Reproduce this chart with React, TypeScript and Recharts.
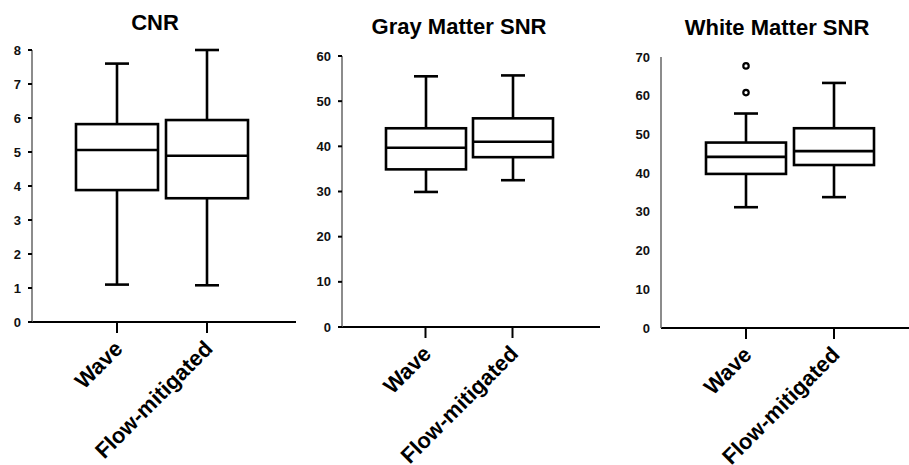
import React from 'react';
import { ComposedChart, Bar, Line, XAxis, YAxis } from 'recharts';

const categories = ['Wave', 'Flow-mitigated'];

const cnrMin = [1.1, 1.08];
const cnrQ1 = [3.88, 3.64];
const cnrMed = [5.06, 4.89];
const cnrQ3 = [5.82, 5.94];
const cnrMax = [7.6, 8.0];
const cnrTicks = [0, 1, 2, 3, 4, 5, 6, 7, 8];

const gmMin = [29.9, 32.5];
const gmQ1 = [34.9, 37.6];
const gmMed = [39.7, 41.0];
const gmQ3 = [44.0, 46.2];
const gmMax = [55.5, 55.7];
const gmTicks = [0, 10, 20, 30, 40, 50, 60];

const wmMin = [31.2, 33.8];
const wmQ1 = [39.8, 42.1];
const wmMed = [44.2, 45.7];
const wmQ3 = [47.9, 51.6];
const wmMax = [55.4, 63.3];
const wmOutlier1: (number | null)[] = [67.7, null];
const wmOutlier2: (number | null)[] = [60.8, null];
const wmTicks = [0, 10, 20, 30, 40, 50, 60, 70];

const FONT = '"Liberation Sans", Arial, sans-serif';

function buildRows(
  mins: number[], q1s: number[], meds: number[], q3s: number[], maxs: number[],
  o1?: (number | null)[], o2?: (number | null)[]
) {
  return categories.map((name, i) => ({
    name,
    range: [mins[i], maxs[i]],
    min: mins[i], q1: q1s[i], med: meds[i], q3: q3s[i], max: maxs[i],
    out1: o1 ? o1[i] : null,
    out2: o2 ? o2[i] : null,
  }));
}

const BoxShape = (props: any) => {
  const { x, y, width, height, payload } = props;
  if (!payload || height === undefined) return null;
  const top = Math.min(y, y + height);
  const bottom = Math.max(y, y + height);
  const { min, q1, med, q3, max } = payload;
  const pix = (v: number) => bottom - ((v - min) / (max - min)) * (bottom - top);
  const cx = x + width / 2;
  const cap = 12;
  const sw = 2.6;
  return (
    <g stroke="#000" strokeWidth={sw} fill="none">
      <line x1={cx} x2={cx} y1={pix(max)} y2={pix(q3)} />
      <line x1={cx} x2={cx} y1={pix(q1)} y2={pix(min)} />
      <line x1={cx - cap} x2={cx + cap} y1={pix(max)} y2={pix(max)} />
      <line x1={cx - cap} x2={cx + cap} y1={pix(min)} y2={pix(min)} />
      <rect x={x} y={pix(q3)} width={width} height={pix(q1) - pix(q3)} fill="#fff" />
      <line x1={x} x2={x + width} y1={pix(med)} y2={pix(med)} />
    </g>
  );
};

const XTick = (props: any) => {
  const { x, y, payload } = props;
  const ax = x + 7;
  const ay = y + 17;
  return (
    <text
      x={ax}
      y={ay}
      transform={`rotate(-45, ${ax}, ${ay})`}
      textAnchor="end"
      fontFamily={FONT}
      fontWeight="bold"
      fontSize={22}
      fill="#000"
    >
      {payload.value}
    </text>
  );
};

const YTick = (props: any) => {
  const { x, y, payload } = props;
  return (
    <text
      x={x}
      y={y}
      dy={4.5}
      textAnchor="end"
      fontFamily={FONT}
      fontWeight="bold"
      fontSize={13}
      fill="#111"
    >
      {payload.value}
    </text>
  );
};

type PanelProps = {
  title: string;
  left: number;
  width: number;
  marginTop: number;
  marginRight: number;
  yWidth: number;
  xHeight: number;
  padL: number;
  padR: number;
  domain: [number, number];
  ticks: number[];
  rows: any[];
  barSize: number;
  showYTicks: boolean;
  titleTop: number;
  titleCenter: number;
  outliers?: boolean;
};

const Panel = (p: PanelProps) => (
  <>
    <div
      style={{
        position: 'absolute',
        left: p.titleCenter - 150,
        width: 300,
        top: p.titleTop,
        textAlign: 'center',
        fontFamily: FONT,
        fontWeight: 'bold',
        fontSize: 22,
        lineHeight: '22px',
        color: '#000',
      }}
    >
      {p.title}
    </div>
    <div style={{ position: 'absolute', left: p.left, top: 0 }}>
      <ComposedChart
        width={p.width}
        height={465}
        data={p.rows}
        margin={{ top: p.marginTop, right: p.marginRight, left: 0, bottom: 0 }}
      >
        <XAxis
          dataKey="name"
          type="category"
          padding={{ left: p.padL, right: p.padR }}
          height={p.xHeight}
          interval={0}
          tickSize={11}
          tickMargin={0}
          axisLine={{ stroke: '#000', strokeWidth: 2 }}
          tickLine={{ stroke: '#000', strokeWidth: 2 }}
          tick={<XTick />}
        />
        <YAxis
          type="number"
          domain={p.domain}
          ticks={p.ticks}
          interval={0}
          width={p.yWidth}
          tickSize={4}
          tickMargin={7}
          axisLine={{ stroke: '#666', strokeWidth: 1.5 }}
          tickLine={p.showYTicks ? { stroke: '#000', strokeWidth: 2 } : false}
          tick={<YTick />}
        />
        <Bar dataKey="range" barSize={p.barSize} shape={<BoxShape />} isAnimationActive={false} />
        {p.outliers && (
          <Line
            dataKey="out1"
            stroke="none"
            strokeWidth={0}
            dot={{ r: 2.7, fill: '#fff', stroke: '#000', strokeWidth: 2.2 }}
            activeDot={false}
            isAnimationActive={false}
          />
        )}
        {p.outliers && (
          <Line
            dataKey="out2"
            stroke="none"
            strokeWidth={0}
            dot={{ r: 2.7, fill: '#fff', stroke: '#000', strokeWidth: 2.2 }}
            activeDot={false}
            isAnimationActive={false}
          />
        )}
      </ComposedChart>
    </div>
  </>
);

export default function App() {
  const cnrRows = buildRows(cnrMin, cnrQ1, cnrMed, cnrQ3, cnrMax);
  const gmRows = buildRows(gmMin, gmQ1, gmMed, gmQ3, gmMax);
  const wmRows = buildRows(wmMin, wmQ1, wmMed, wmQ3, wmMax, wmOutlier1, wmOutlier2);
  return (
    <div
      style={{
        position: 'absolute',
        left: 0,
        top: 0,
        width: 909,
        height: 465,
        background: '#fff',
        overflow: 'hidden',
        fontFamily: FONT,
      }}
    >
      <Panel
        title="CNR"
        left={0}
        width={300}
        marginTop={50}
        marginRight={4}
        yWidth={32}
        xHeight={143}
        padL={40}
        padR={44}
        domain={[0, 8]}
        ticks={cnrTicks}
        rows={cnrRows}
        barSize={82}
        showYTicks={true}
        titleTop={12}
        titleCenter={155}
      />
      <Panel
        title="Gray Matter SNR"
        left={300}
        width={305}
        marginTop={56}
        marginRight={5}
        yWidth={42}
        xHeight={138}
        padL={40}
        padR={44}
        domain={[0, 60]}
        ticks={gmTicks}
        rows={gmRows}
        barSize={80}
        showYTicks={true}
        titleTop={16}
        titleCenter={459}
      />
      <Panel
        title="White Matter SNR"
        left={610}
        width={299}
        marginTop={57}
        marginRight={0}
        yWidth={51}
        xHeight={137}
        padL={41}
        padR={31}
        domain={[0, 70]}
        ticks={wmTicks}
        rows={wmRows}
        barSize={80}
        showYTicks={false}
        titleTop={17}
        titleCenter={777}
        outliers={true}
      />
    </div>
  );
}
